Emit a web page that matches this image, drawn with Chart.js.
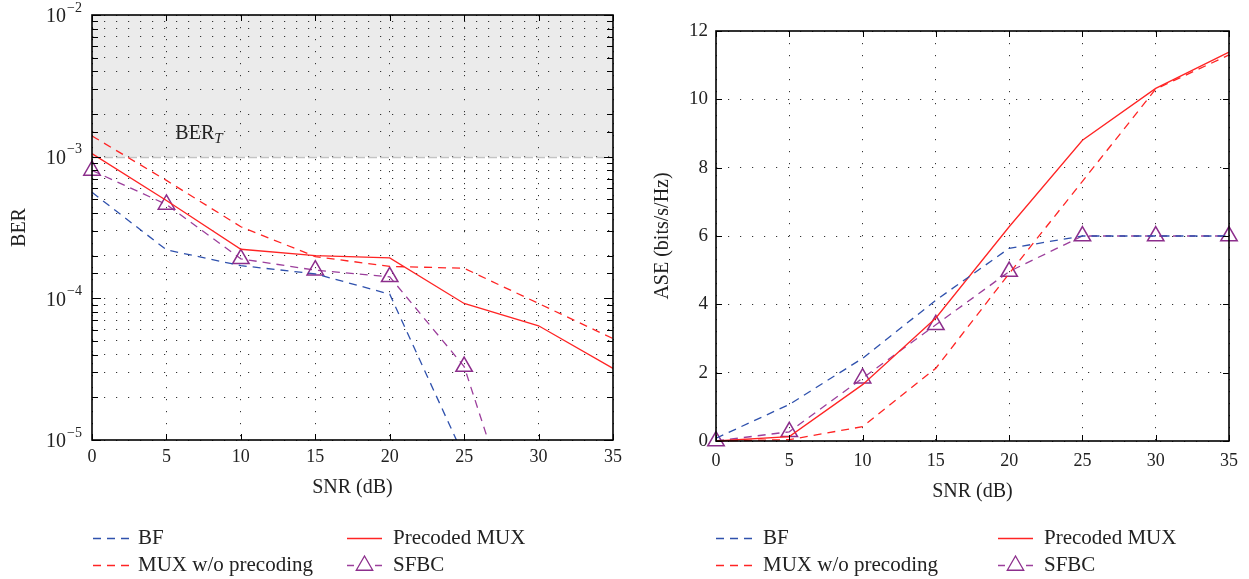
<!DOCTYPE html>
<html lang="en">
<head>
<meta charset="UTF-8">
<title>BER and ASE versus SNR</title>
<style>
  body { margin: 0; background: #fff; }
  .panel { position: absolute; top: 0; }
  #left { left: 0; }
  #right { left: 624px; }
</style>
</head>
<body>
<div class="panel" id="left"><canvas id="berChart" width="624" height="579"></canvas></div>
<div class="panel" id="right"><canvas id="aseChart" width="625" height="579"></canvas></div>

<script src="https://cdn.jsdelivr.net/npm/chart.js"></script>
<script>
// x axis: SNR in dB
const snr = [0, 5, 10, 15, 20, 25, 30, 35];
const snrRange = [0, 35];
const snrStep = 5;

// left panel: BER (log scale)
const berRange = [1e-5, 1e-2];
const berTarget = 1e-3;
const berBF = [5.6e-4, 2.2e-4, 1.7e-4, 1.49e-4, 1.07e-4, 7.6e-6, null, null];
const berMuxNoPre = [1.4e-3, 6.8e-4, 3.2e-4, 1.97e-4, 1.68e-4, 1.63e-4, 9.2e-5, 5.2e-5];
const berPrecoded = [1.05e-3, 4.9e-4, 2.22e-4, 2.0e-4, 1.93e-4, 9.2e-5, 6.4e-5, 3.2e-5];
const berSFBC = [8.0e-4, 4.6e-4, 1.9e-4, 1.58e-4, 1.42e-4, 3.3e-5, 8e-7, null];

// right panel: ASE (bits/s/Hz)
const aseRange = [0, 12];
const aseStep = 2;
const aseBF = [0.08, 1.07, 2.42, 4.12, 5.64, 6.0, 6.0, 6.0];
const aseMuxNoPre = [0, 0.04, 0.42, 2.13, 4.9, 7.6, 10.3, 11.3];
const asePrecoded = [0, 0.13, 1.65, 3.6, 6.27, 8.8, 10.32, 11.38];
const aseSFBC = [0, 0.27, 1.84, 3.4, 4.96, 6.0, 6.0, 6.0];

const seriesNames = ['BF', 'MUX w/o precoding', 'Precoded MUX', 'SFBC'];

const SERIF = "'Liberation Serif', 'DejaVu Serif', serif";
const BLUE = '#2f51ad';
const RED = '#ff2424';
const PURPLE = '#9c3f9c';
const MARKER = '#8c2e8c';
const DASH = [8, 6];

Chart.defaults.font.family = SERIF;
Chart.defaults.color = '#222';

function pts(vals) {
  return snr.map((x, i) => ({ x: x, y: vals[i] }));
}

function makeDatasets(bf, mux, pre, sfbc, clip) {
  return [
    { label: seriesNames[0], data: pts(bf), borderColor: BLUE, borderDash: DASH, borderWidth: 1.3, pointRadius: 0, clip: clip },
    { label: seriesNames[1], data: pts(mux), borderColor: RED, borderDash: DASH, borderWidth: 1.3, pointRadius: 0, clip: clip },
    { label: seriesNames[2], data: pts(pre), borderColor: RED, borderWidth: 1.3, pointRadius: 0, clip: clip },
    { label: seriesNames[3], data: pts(sfbc), borderColor: PURPLE, borderDash: DASH, borderWidth: 1.3,
      pointStyle: 'triangle', pointRadius: 9.5, pointBorderWidth: 1.5,
      pointBorderColor: MARKER, pointBackgroundColor: 'rgba(0,0,0,0)', clip: clip }
  ];
}

// box round the plot with inward tick marks
const frame = {
  id: 'frame',
  afterDatasetsDraw(chart, args, opts) {
    const { ctx, chartArea: a, scales: { x, y } } = chart;
    ctx.save();
    ctx.strokeStyle = '#000';
    ctx.lineWidth = 1;
    ctx.setLineDash([]);
    ctx.beginPath();
    x.ticks.forEach(t => {
      const px = Math.round(x.getPixelForValue(t.value)) + 0.5;
      ctx.moveTo(px, a.bottom); ctx.lineTo(px, a.bottom - 6);
      ctx.moveTo(px, a.top); ctx.lineTo(px, a.top + 6);
    });
    y.ticks.forEach(t => {
      const py = Math.round(y.getPixelForValue(t.value)) + 0.5;
      let len = 6;
      if (opts.log) {
        const l = Math.log10(t.value);
        len = Math.abs(l - Math.round(l)) < 1e-6 ? 9 : 6;
      }
      ctx.moveTo(a.left, py); ctx.lineTo(a.left + len, py);
      ctx.moveTo(a.right, py); ctx.lineTo(a.right - len, py);
    });
    ctx.stroke();
    ctx.lineWidth = 1.6;
    ctx.strokeRect(a.left, a.top, a.right - a.left, a.bottom - a.top);
    ctx.restore();
  }
};

// 10^n labels for the log axis
const powLabels = {
  id: 'powLabels',
  afterDraw(chart) {
    const { ctx, chartArea: a, scales: { y } } = chart;
    ctx.save();
    ctx.fillStyle = '#222';
    ctx.textBaseline = 'middle';
    y.ticks.forEach(t => {
      const l = Math.log10(t.value);
      if (Math.abs(l - Math.round(l)) > 1e-6) return;
      const py = y.getPixelForValue(t.value);
      const sup = '\u2212' + Math.abs(Math.round(l));
      ctx.font = '14px ' + SERIF;
      const w = ctx.measureText(sup).width;
      const right = a.left - 10;
      ctx.textAlign = 'left';
      ctx.fillText(sup, right - w, py - 7);
      ctx.font = '20px ' + SERIF;
      ctx.textAlign = 'right';
      ctx.fillText('10', right - w - 1, py + 2);
    });
    ctx.restore();
  }
};

// shaded region above the BER target
const targetZone = {
  id: 'targetZone',
  beforeDraw(chart) {
    const { ctx, chartArea: a, scales: { y } } = chart;
    const yt = y.getPixelForValue(berTarget);
    ctx.save();
    ctx.fillStyle = '#ebebeb';
    ctx.fillRect(a.left, a.top, a.right - a.left, yt - a.top);
    ctx.restore();
  },
  beforeDatasetsDraw(chart) {
    const { ctx, chartArea: a, scales: { x, y } } = chart;
    const yt = Math.round(y.getPixelForValue(berTarget)) + 0.5;
    ctx.save();
    ctx.strokeStyle = '#c4c4c4';
    ctx.lineWidth = 1.5;
    ctx.setLineDash([9, 3]);
    ctx.beginPath();
    ctx.moveTo(a.left, yt); ctx.lineTo(a.right, yt);
    ctx.stroke();
    // BER_T label
    const lx = x.getPixelForValue(5.6);
    const ly = y.getPixelForValue(1.45e-3);
    ctx.fillStyle = '#222';
    ctx.textBaseline = 'middle';
    ctx.textAlign = 'left';
    ctx.font = '20px ' + SERIF;
    ctx.fillText('BER', lx, ly);
    const w = ctx.measureText('BER').width;
    ctx.font = 'italic 15px ' + SERIF;
    ctx.fillText('T', lx + w, ly + 5);
    ctx.restore();
  }
};

// two-column legend under each panel
const legendBox = {
  id: 'legendBox',
  afterDraw(chart, args, opts) {
    const { ctx } = chart;
    const rows = [538, 565];
    const items = [
      { name: seriesNames[0], col: 0, row: 0, color: BLUE, dash: true },
      { name: seriesNames[1], col: 0, row: 1, color: RED, dash: true },
      { name: seriesNames[2], col: 1, row: 0, color: RED, dash: false },
      { name: seriesNames[3], col: 1, row: 1, color: PURPLE, marker: true }
    ];
    ctx.save();
    items.forEach(it => {
      const c = opts.cols[it.col];
      const yy = rows[it.row] + 0.5;
      ctx.strokeStyle = it.color;
      ctx.lineWidth = 1.3;
      if (it.marker) {
        ctx.setLineDash([]);
        ctx.beginPath();
        ctx.moveTo(c.x1, yy); ctx.lineTo(c.x1 + 7, yy);
        ctx.moveTo(c.x2 - 7, yy); ctx.lineTo(c.x2, yy);
        ctx.stroke();
        ctx.strokeStyle = MARKER;
        ctx.fillStyle = 'rgba(0,0,0,0)';
        Chart.helpers.drawPoint(ctx, { pointStyle: 'triangle', radius: 9.5, borderWidth: 1.5, rotation: 0 },
          (c.x1 + c.x2) / 2, yy);
      } else {
        ctx.setLineDash(it.dash ? DASH : []);
        ctx.beginPath();
        ctx.moveTo(c.x1, yy); ctx.lineTo(c.x2, yy);
        ctx.stroke();
      }
      ctx.setLineDash([]);
      ctx.fillStyle = '#222';
      ctx.font = '21px ' + SERIF;
      ctx.textBaseline = 'middle';
      ctx.textAlign = 'left';
      ctx.fillText(it.name, c.tx, rows[it.row]);
    });
    ctx.restore();
  }
};

const dotted = { color: '#333', lineWidth: 1, drawTicks: false };
const noBorder = { display: false, dash: [1.2, 10.8] };

function xScale(h, pad) {
  return {
    type: 'linear', min: snrRange[0], max: snrRange[1],
    grid: dotted, border: noBorder,
    ticks: { stepSize: snrStep, padding: pad, font: { size: 18 }, color: '#222' },
    title: { display: true, text: 'SNR (dB)', font: { size: 20 }, color: '#222', padding: 0 },
    afterFit(s) {
      s.height = h;
      s.paddingLeft = 0;
      s.paddingRight = 0;
    }
  };
}

new Chart(document.getElementById('berChart'), {
  type: 'line',
  data: { datasets: makeDatasets(berBF, berMuxNoPre, berPrecoded, berSFBC, { left: 12, right: 12, top: 0, bottom: 0 }) },
  options: {
    responsive: false,
    animation: false,
    layout: { padding: { top: 15, right: 10, bottom: 79, left: 0 } },
    elements: { line: { tension: 0 } },
    scales: {
      x: xScale(60, 6),
      y: {
        type: 'logarithmic', min: berRange[0], max: berRange[1],
        grid: dotted, border: noBorder,
        ticks: { display: false, autoSkip: false },
        title: { display: true, text: 'BER', font: { size: 20 }, color: '#222', padding: { top: 8, bottom: 0 } },
        afterFit(s) { s.width = 92; }
      }
    },
    plugins: {
      legend: { display: false },
      tooltip: { enabled: false },
      frame: { log: true },
      legendBox: { cols: [{ x1: 93, x2: 129, tx: 138 }, { x1: 347, x2: 382, tx: 393 }] }
    }
  },
  plugins: [targetZone, frame, powLabels, legendBox]
});

new Chart(document.getElementById('aseChart'), {
  type: 'line',
  data: { datasets: makeDatasets(aseBF, aseMuxNoPre, asePrecoded, aseSFBC, { left: 12, right: 12, top: 0, bottom: 12 }) },
  options: {
    responsive: false,
    animation: false,
    layout: { padding: { top: 31, right: 20, bottom: 75, left: 0 } },
    elements: { line: { tension: 0 } },
    scales: {
      x: xScale(63, 9),
      y: {
        type: 'linear', min: aseRange[0], max: aseRange[1],
        grid: dotted, border: noBorder,
        ticks: { stepSize: aseStep, padding: 8, font: { size: 19 }, color: '#222' },
        title: { display: true, text: 'ASE (bits/s/Hz)', font: { size: 20 }, color: '#222', padding: { top: 27, bottom: 0 } },
        afterFit(s) { s.width = 92; }
      }
    },
    plugins: {
      legend: { display: false },
      tooltip: { enabled: false },
      frame: { log: false },
      legendBox: { cols: [{ x1: 92, x2: 128, tx: 139 }, { x1: 374, x2: 409, tx: 420 }] }
    }
  },
  plugins: [frame, legendBox]
});
</script>
</body>
</html>
